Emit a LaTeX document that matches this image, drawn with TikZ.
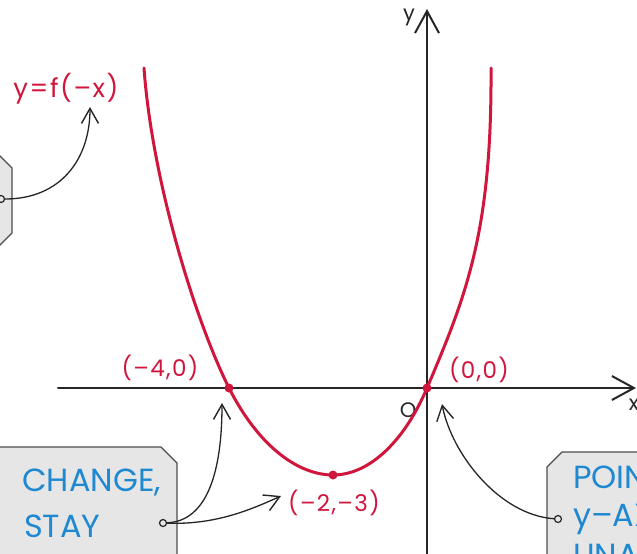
\documentclass[tikz,border=0pt]{standalone}
\usepackage{fontspec}
\setmainfont{Poppins}
\usetikzlibrary{arrows.meta}
\definecolor{cred}{HTML}{D0163C}
\definecolor{cblue}{HTML}{1E88D0}
\definecolor{boxfill}{HTML}{E6E6E6}
\definecolor{boxline}{HTML}{4D4D4D}
\tikzset{
  axisline/.style={line width=2pt, black!85, line cap=round, -{Straight Barb[length=22pt,width=24pt,line width=2pt]}},
  ptr/.style={line width=1.3pt, black!85, -{Straight Barb[length=15pt,width=17pt,line width=1.4pt]}},
  curvestyle/.style={line width=3pt, cred, line cap=round},
  ptdot/.style={circle, fill=cred, minimum size=9pt, inner sep=0pt},
  redlab/.style={text=cred, font=\fontsize{23}{26}\selectfont\addfontfeatures{LetterSpace=6}, inner sep=0pt},
  axlab/.style={text=black!85, font=\fontsize{21}{24}\selectfont, inner sep=0pt},
  bluetxt/.style={text=cblue, font=\fontsize{32}{36}\selectfont, inner sep=0pt, anchor=base west},
  tbox/.style={fill=boxfill, draw=boxline, line width=1.3pt, line join=round},
  circ/.style={circle, draw=black!85, line width=1.2pt, fill=boxfill, minimum size=7pt, inner sep=0pt}
}
\begin{document}
\begin{tikzpicture}[x=1pt,y=-1pt]
\useasboundingbox (0,0) rectangle (637,554);
\clip (0,0) rectangle (637,554);
\fill[white] (0,0) rectangle (637,554);

% boxes
\draw[tbox] (-40,155) -- (-1,155) -- (12,168) -- (12,233) -- (-1,246) -- (-40,246) -- cycle;
\draw[tbox] (-40,447) -- (161,447) -- (177,463) -- (177,600) -- (-40,600) -- cycle;
\draw[tbox] (562,452) -- (680,452) -- (680,600) -- (547,600) -- (547,467) -- cycle;

% axes
\coordinate (xs) at (58,388);
\coordinate (xe) at (636,388);
\coordinate (ys) at (427,560);
\coordinate (ye) at (427,9);
\draw[axisline] (xs) -- (xe);
\draw[axisline] (ys) -- (ye);
\node[axlab] (ylab) at (409,17) {y};
\node[axlab] (xlab) at (634,405) {x};
\node[axlab] (olab) at (408,410) {O};

% curve
\coordinate (cL) at (144,68);
\coordinate (cA) at (229,388);
\coordinate (cV) at (333,475);
\coordinate (cO) at (427,388);
\coordinate (cR) at (491,68);
\draw[curvestyle] (cL) .. controls (152,180) and (195,320) .. (cA)
  .. controls (260,449) and (300,475) .. (cV)
  .. controls (370,475) and (405,440) .. (cO)
  .. controls (467,294) and (492,230) .. (cR);

\node[ptdot] (pA) at (cA) {};
\node[ptdot] (pO) at (cO) {};
\node[ptdot] (pV) at (cV) {};

% labels
\node[redlab] (lA) at (160,368) {(–4,0)};
\node[redlab] (lO) at (479,370) {(0,0)};
\node[redlab] (lV) at (334,503) {(–2,–3)};
\node[redlab, font=\fontsize{26}{30}\selectfont\addfontfeatures{LetterSpace=6}] (lf) at (66,89) {y=f(–x)};

% box texts
\node[bluetxt] (t1) at (22,491) {CHANGE,};
\node[bluetxt] (t2) at (24,537) {STAY};
\node[bluetxt] (t3) at (573,488) {POINTS};
\node[bluetxt] (t4) at (573,526) {y–AXIS};
\node[bluetxt] (t5) at (573,566) {UNAFFECTED};

% connectors
\node[circ] (c0) at (1,199) {};
\node[circ] (c1) at (163,523) {};
\node[circ] (c2) at (558,519) {};
\coordinate (a0) at (90,107);
\coordinate (a1) at (222,403);
\coordinate (a2) at (281,496);
\coordinate (a3) at (442,404);
\draw[ptr] (c0) .. controls (60,199) and (90,160) .. (a0);
\draw[ptr] (c1) .. controls (208,521) and (222,470) .. (a1);
\draw[ptr] (c1) .. controls (215,525) and (250,510) .. (a2);
\draw[ptr] (c2) .. controls (500,515) and (452,455) .. (a3);
\end{tikzpicture}
\end{document}
